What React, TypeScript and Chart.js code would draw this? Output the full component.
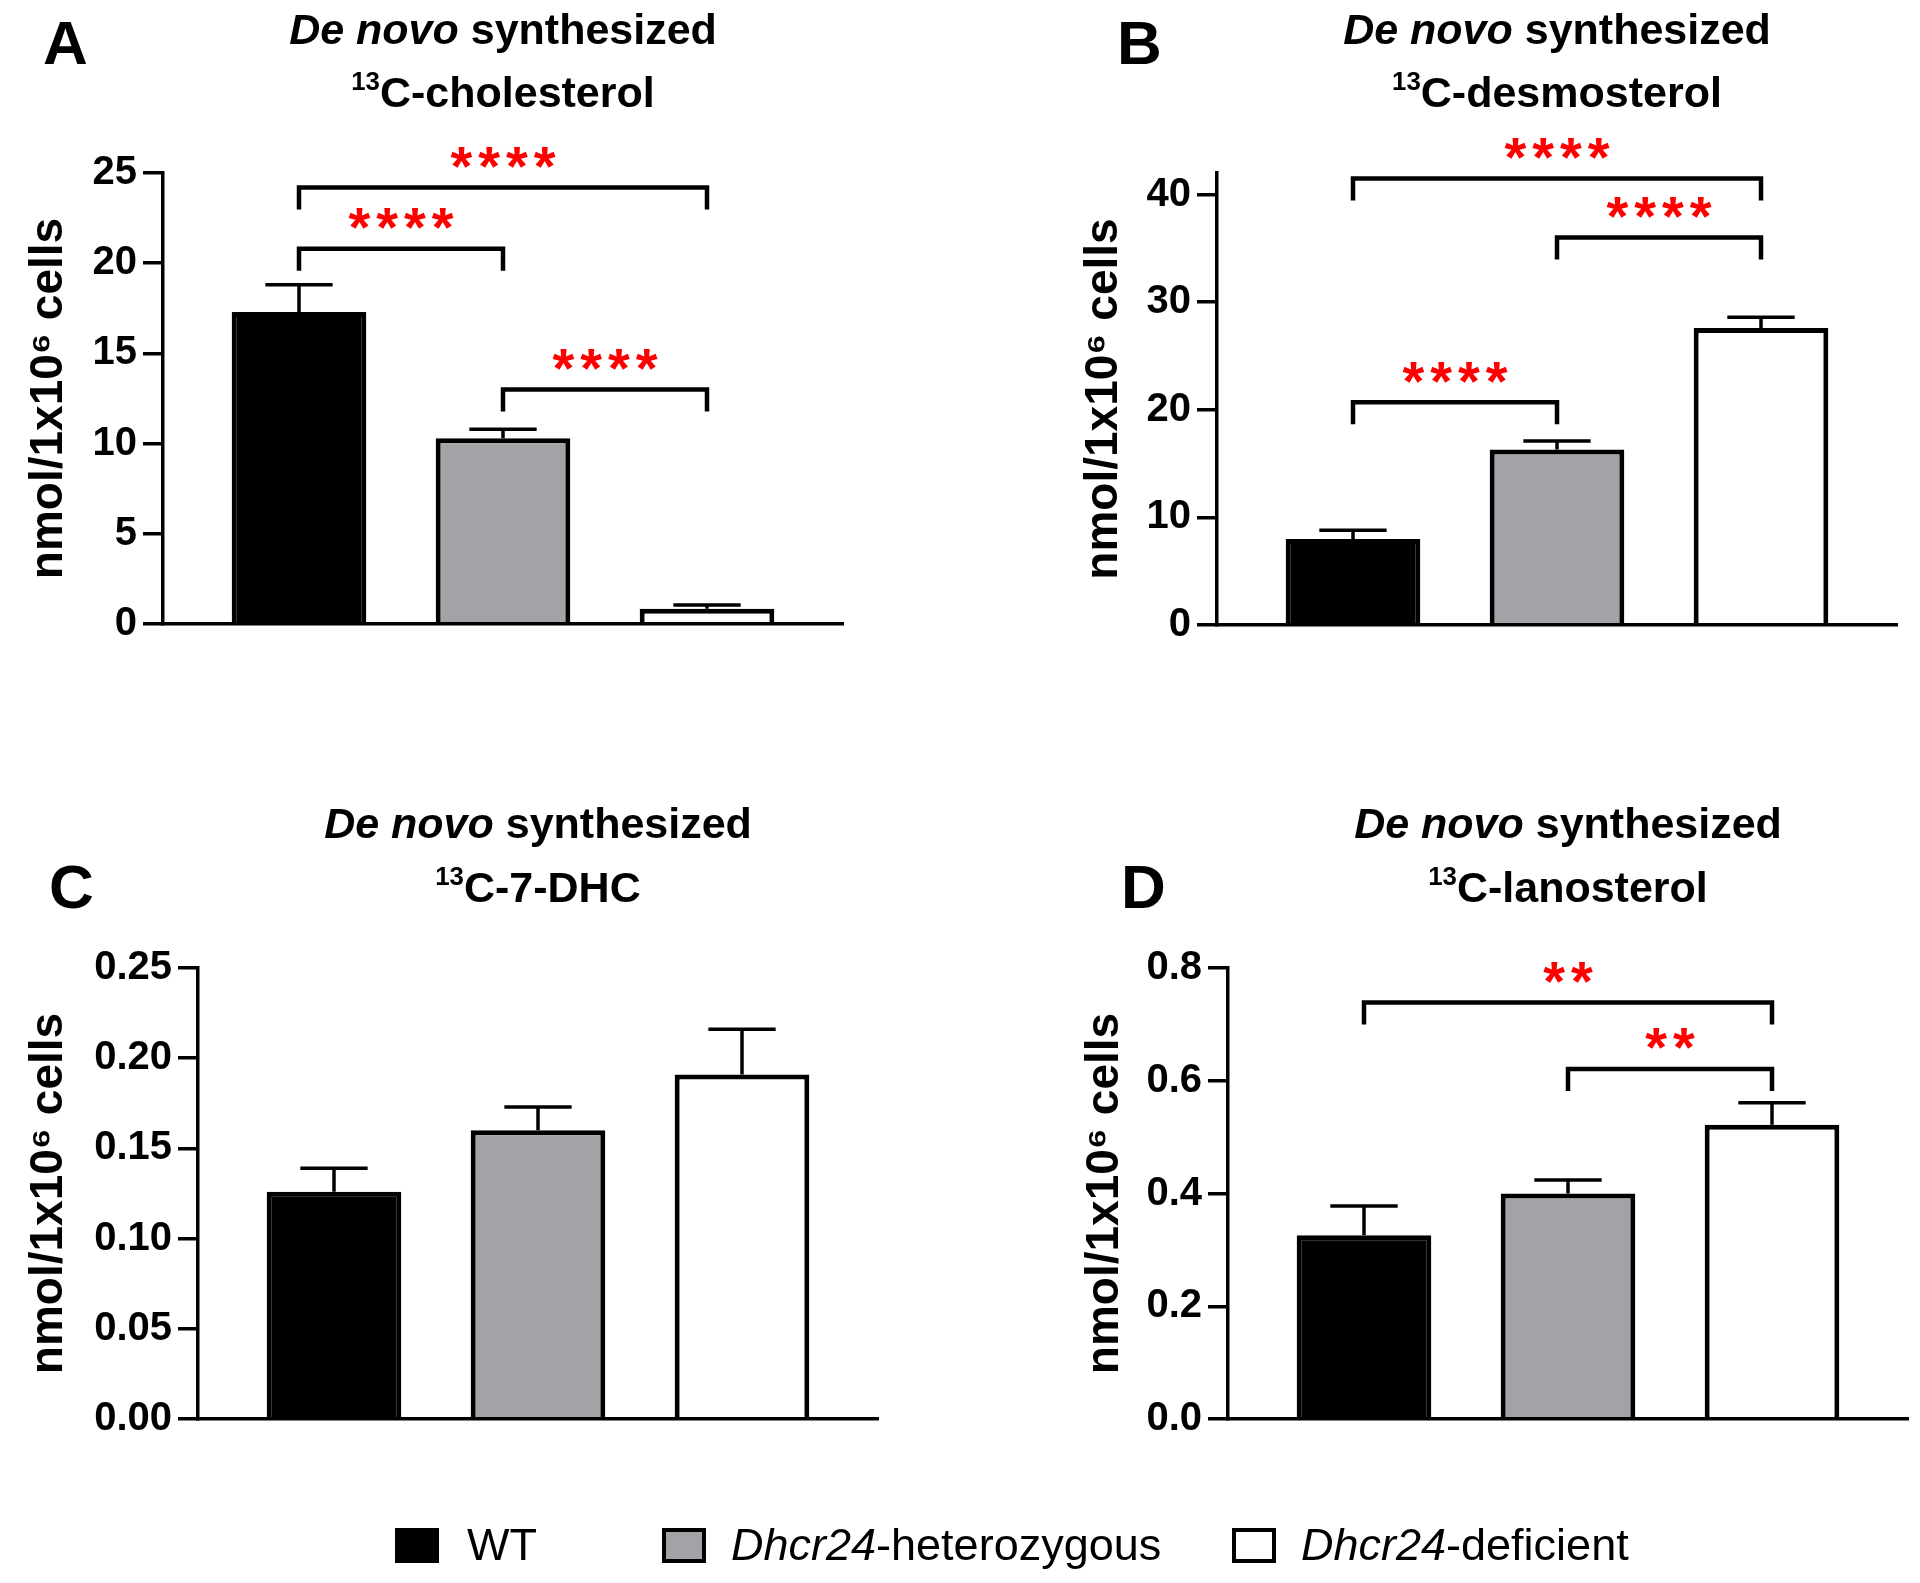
import React, { useEffect, useRef } from 'react';
import { Chart, registerables } from 'chart.js';

Chart.register(...registerables);

const FONT = "'Liberation Sans', Arial, Helvetica, sans-serif";

// ---------------- data ----------------
const GROUPS = ['WT', 'Dhcr24-heterozygous', 'Dhcr24-deficient'];

const CHOLESTEROL_MEAN = [17.3, 10.3, 0.85];
const CHOLESTEROL_SEM = [1.5, 0.5, 0.2];
const CHOLESTEROL_TICKS = [0, 5, 10, 15, 20, 25];
const CHOLESTEROL_SIG = [
  { from: 0, to: 1, y: 20.8, stars: '****' },
  { from: 0, to: 2, y: 24.2, stars: '****' },
  { from: 1, to: 2, y: 13.0, stars: '****' },
];

const DESMOSTEROL_MEAN = [8.0, 16.3, 27.6];
const DESMOSTEROL_SEM = [0.8, 0.8, 1.0];
const DESMOSTEROL_TICKS = [0, 10, 20, 30, 40];
const DESMOSTEROL_SIG = [
  { from: 0, to: 1, y: 20.7, stars: '****' },
  { from: 0, to: 2, y: 41.5, stars: '****' },
  { from: 1, to: 2, y: 36.0, stars: '****' },
];

const DHC_MEAN = [0.126, 0.16, 0.191];
const DHC_SEM = [0.013, 0.013, 0.025];
const DHC_TICKS = [0, 0.05, 0.1, 0.15, 0.2, 0.25];
const DHC_SIG: { from: number; to: number; y: number; stars: string }[] = [];

const LANOSTEROL_MEAN = [0.326, 0.4, 0.522];
const LANOSTEROL_SEM = [0.052, 0.024, 0.039];
const LANOSTEROL_TICKS = [0, 0.2, 0.4, 0.6, 0.8];
const LANOSTEROL_SIG = [
  { from: 0, to: 2, y: 0.739, stars: '**' },
  { from: 1, to: 2, y: 0.621, stars: '**' },
];

const Y_TITLE = 'nmol/1x10\u2076 cells';

// ---------------- styles / layout ----------------
const BAR_COLORS = ['#000000', '#a3a3a7', '#ffffff'];
const STAR_COLOR = '#ff0000';
const BLOCK_W = 960;
const BLOCK_H = 790;
const X_MIN = -2 / 3;
const X_MAX = 8 / 3;
const LEG = 22;
const STAR_GAP = 30;
const TITLE_SIZE = 43;
const TICK_SIZE = 40;
const LEGEND_SIZE = 45;

const PANELS = [
  {
    letter: 'A', name: 'C-cholesterol', mean: CHOLESTEROL_MEAN, sem: CHOLESTEROL_SEM, ticks: CHOLESTEROL_TICKS,
    sig: CHOLESTEROL_SIG, yMax: 25, dec: 0,
    bx: 0, by: 0, plotL: 163, plotR: 843, plotT: 173, plotB: 624, yTitleX: 49,
    letterX: 43, letterCy: 42.5, titleY1: 29, titleY2: 92,
  },
  {
    letter: 'B', name: 'C-desmosterol', mean: DESMOSTEROL_MEAN, sem: DESMOSTEROL_SEM, ticks: DESMOSTEROL_TICKS,
    sig: DESMOSTEROL_SIG, yMax: 42, dec: 0,
    bx: 960, by: 0, plotL: 1217, plotR: 1897, plotT: 173, plotB: 625, yTitleX: 1104,
    letterX: 1117, letterCy: 42.5, titleY1: 29, titleY2: 92,
  },
  {
    letter: 'C', name: 'C-7-DHC', mean: DHC_MEAN, sem: DHC_SEM, ticks: DHC_TICKS,
    sig: DHC_SIG, yMax: 0.25, dec: 2,
    bx: 0, by: 790, plotL: 198, plotR: 878, plotT: 968, plotB: 1419, yTitleX: 49,
    letterX: 49, letterCy: 886, titleY1: 823.5, titleY2: 887,
  },
  {
    letter: 'D', name: 'C-lanosterol', mean: LANOSTEROL_MEAN, sem: LANOSTEROL_SEM, ticks: LANOSTEROL_TICKS,
    sig: LANOSTEROL_SIG, yMax: 0.8, dec: 1,
    bx: 960, by: 790, plotL: 1228, plotR: 1908, plotT: 968, plotB: 1419, yTitleX: 1105,
    letterX: 1121, letterCy: 886, titleY1: 823.5, titleY2: 887,
  },
];

type PanelT = typeof PANELS[number];

function Panel({ p }: { p: PanelT }) {
  const ref = useRef<HTMLCanvasElement | null>(null);

  useEffect(() => {
    const canvas = ref.current;
    if (!canvas) return;

    const annot = {
      id: 'annot' + p.letter,
      afterDatasetsDraw(chart: any) {
        const { ctx, scales } = chart;
        const xs = scales.x;
        const ys = scales.y;
        const meta = chart.getDatasetMeta(0);
        ctx.save();
        // error bars (upper only)
        ctx.strokeStyle = '#000';
        ctx.lineWidth = 3.5;
        ctx.lineCap = 'butt';
        meta.data.forEach((bar: any, i: number) => {
          const x = bar.x;
          const yTop = ys.getPixelForValue(p.mean[i] + p.sem[i]);
          const half = bar.width / 4;
          ctx.beginPath();
          ctx.moveTo(x, bar.y);
          ctx.lineTo(x, yTop);
          ctx.moveTo(x - half, yTop);
          ctx.lineTo(x + half, yTop);
          ctx.stroke();
        });
        // significance brackets
        ctx.lineWidth = 4.5;
        ctx.lineJoin = 'miter';
        ctx.font = `bold 56px ${FONT}`;
        const m = ctx.measureText('*');
        const spacing = 6;
        (ctx as any).letterSpacing = spacing + 'px';
        p.sig.forEach((s) => {
          const x1 = xs.getPixelForValue(s.from);
          const x2 = xs.getPixelForValue(s.to);
          const yb = ys.getPixelForValue(s.y);
          ctx.strokeStyle = '#000';
          ctx.beginPath();
          ctx.moveTo(x1, yb + LEG);
          ctx.lineTo(x1, yb);
          ctx.lineTo(x2, yb);
          ctx.lineTo(x2, yb + LEG);
          ctx.stroke();
          const cy = yb - STAR_GAP;
          const baseY = cy + (m.actualBoundingBoxAscent - m.actualBoundingBoxDescent) / 2;
          ctx.fillStyle = STAR_COLOR;
          ctx.textAlign = 'center';
          ctx.textBaseline = 'alphabetic';
          ctx.fillText(s.stars, (x1 + x2) / 2 + spacing / 2, baseY);
        });
        ctx.restore();
      },
    };

    const chart = new Chart(canvas, {
      type: 'bar',
      data: {
        datasets: [
          {
            data: p.mean.map((v, i) => ({ x: i, y: v })),
            backgroundColor: BAR_COLORS,
            borderColor: '#000',
            borderWidth: 5,
            barPercentage: 0.66,
            categoryPercentage: 1,
          } as any,
        ],
      },
      plugins: [annot],
      options: {
        responsive: false,
        animation: false,
        events: [],
        layout: {
          padding: {
            left: 0,
            top: p.plotT - p.by,
            right: p.bx + BLOCK_W - p.plotR,
            bottom: p.by + BLOCK_H - p.plotB,
          },
        },
        plugins: { legend: { display: false }, tooltip: { enabled: false } },
        scales: {
          x: {
            type: 'linear',
            min: X_MIN,
            max: X_MAX,
            offset: false,
            grid: { display: false, drawTicks: false },
            ticks: { display: false },
            border: { display: true, color: '#000', width: 3.5, z: 1 },
            afterBuildTicks: (s: any) => {
              s.ticks = GROUPS.map((_, i) => ({ value: i }));
            },
            afterFit: (s: any) => {
              s.height = 0;
            },
          } as any,
          y: {
            type: 'linear',
            position: 'left',
            min: 0,
            max: p.yMax,
            bounds: 'data',
            afterBuildTicks: (s: any) => {
              s.ticks = p.ticks.map((v) => ({ value: v }));
            },
            ticks: {
              padding: 6,
              color: '#000',
              font: { family: FONT, size: TICK_SIZE, weight: 'bold' },
              callback: (v: any) => Number(v).toFixed(p.dec),
            },
            grid: {
              drawOnChartArea: false,
              drawTicks: true,
              tickLength: 20,
              tickWidth: 3.5,
              tickColor: '#000',
              color: '#000',
              lineWidth: 3.5,
            },
            border: { display: true, color: '#000', width: 3.5, z: 1 },
            title: {
              display: true,
              text: Y_TITLE,
              color: '#000',
              font: { family: FONT, size: 46, weight: 'bold', lineHeight: 1.2 },
              padding: { top: p.yTitleX - p.bx - 27.6, bottom: 0 },
            },
            afterFit: (s: any) => {
              s.width = p.plotL - p.bx;
            },
          } as any,
        },
      } as any,
    });
    return () => chart.destroy();
  }, [p]);

  const cx = (p.plotL + p.plotR) / 2;
  return (
    <>
      <canvas
        ref={ref}
        width={BLOCK_W}
        height={BLOCK_H}
        style={{ position: 'absolute', left: p.bx, top: p.by, width: BLOCK_W, height: BLOCK_H }}
      />
      <div
        style={{
          position: 'absolute', left: p.letterX, top: p.letterCy - 0.4885 * 62,
          font: `bold 62px/62px ${FONT}`, color: '#000', whiteSpace: 'nowrap',
        }}
      >
        {p.letter}
      </div>
      <div
        style={{
          position: 'absolute', left: cx - 500, width: 1000, top: p.titleY1 - 0.4885 * TITLE_SIZE,
          textAlign: 'center', font: `bold ${TITLE_SIZE}px/${TITLE_SIZE}px ${FONT}`, color: '#000', whiteSpace: 'nowrap',
        }}
      >
        <i>De novo</i> synthesized
      </div>
      <div
        style={{
          position: 'absolute', left: cx - 500, width: 1000, top: p.titleY2 - 0.4885 * TITLE_SIZE,
          textAlign: 'center', font: `bold ${TITLE_SIZE}px/${TITLE_SIZE}px ${FONT}`, color: '#000', whiteSpace: 'nowrap',
        }}
      >
        <sup style={{ fontSize: '60%', verticalAlign: '17px', lineHeight: 0 }}>13</sup>
        {p.name}
      </div>
    </>
  );
}

const LEGEND_POS = [
  { box: 395, text: 467 },
  { box: 662, text: 731 },
  { box: 1232, text: 1301 },
];

function Legend() {
  const size = LEGEND_SIZE;
  return (
    <>
      {GROUPS.map((g, i) => {
        const pos = LEGEND_POS[i];
        const dash = g.indexOf('-');
        return (
          <React.Fragment key={g}>
            <div
              style={{
                position: 'absolute', left: pos.box, top: 1528, width: 44, height: 35, boxSizing: 'border-box',
                background: BAR_COLORS[i], border: '4.5px solid #000',
              }}
            />
            <div
              style={{
                position: 'absolute', left: pos.text, top: 1544 - 0.4885 * size,
                font: `${size}px/${size}px ${FONT}`, color: '#000', whiteSpace: 'nowrap',
              }}
            >
              {dash > 0 ? (
                <>
                  <i>{g.slice(0, dash)}</i>
                  {g.slice(dash)}
                </>
              ) : (
                g
              )}
            </div>
          </React.Fragment>
        );
      })}
    </>
  );
}

export default function App() {
  return (
    <div
      style={{
        position: 'absolute', left: 0, top: 0, width: 1920, height: 1583, background: '#fff', overflow: 'hidden',
      }}
    >
      {PANELS.map((p) => (
        <Panel key={p.letter} p={p} />
      ))}
      <Legend />
    </div>
  );
}
